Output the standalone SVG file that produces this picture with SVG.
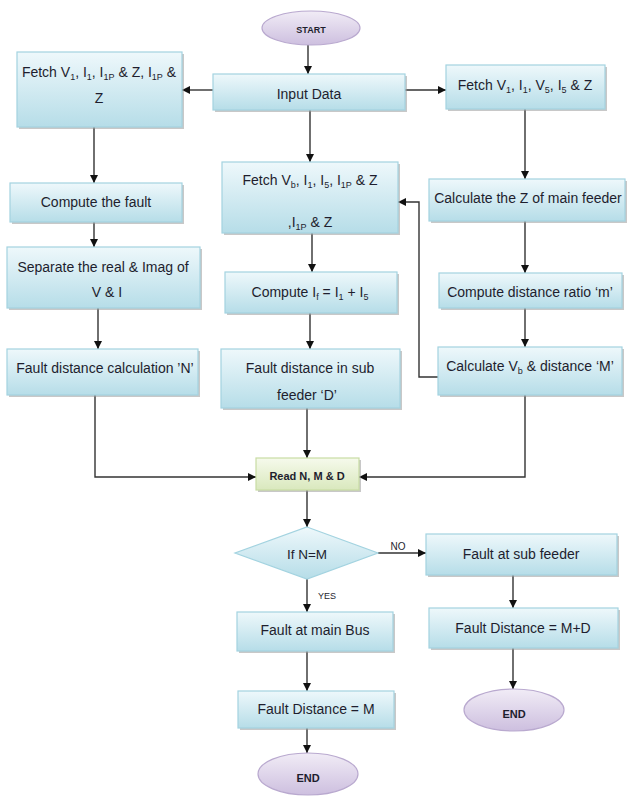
<svg xmlns="http://www.w3.org/2000/svg" width="627" height="796" viewBox="0 0 627 796">
<style>
.box{fill:url(#gBlue);stroke:#a3d3e0;stroke-width:1.2}
.shd{fill:#9a9a9a;opacity:0.55}
.grn{fill:url(#gGreen);stroke:#c8dca4;stroke-width:1.2}
.ell{fill:url(#gPurple);stroke:#b9a9cf;stroke-width:1.2}
.dia{fill:url(#gBlue);stroke:#a3d3e0;stroke-width:1.2}
.t{font-family:"Liberation Sans",Arial,sans-serif;font-size:14px;fill:#1e1e2e;text-anchor:middle}
.b{font-family:"Liberation Sans",Arial,sans-serif;font-weight:bold;fill:#1e1e2e;text-anchor:middle}
.s{font-size:9px}
.c{fill:none;stroke:#333;stroke-width:1.4}
</style>
<defs>
<linearGradient id="gBlue" x1="0" y1="0" x2="0" y2="1"><stop offset="0" stop-color="#eef8fb"/><stop offset="1" stop-color="#b6dde8"/></linearGradient>
<linearGradient id="gGreen" x1="0" y1="0" x2="0" y2="1"><stop offset="0" stop-color="#f6faec"/><stop offset="1" stop-color="#d9e8bd"/></linearGradient>
<linearGradient id="gPurple" x1="0" y1="0" x2="0" y2="1"><stop offset="0" stop-color="#f1ecf6"/><stop offset="1" stop-color="#cdbfdf"/></linearGradient>
<marker id="ar" markerUnits="userSpaceOnUse" markerWidth="9" markerHeight="8" refX="8" refY="4" orient="auto"><path d="M0,0 L8,4 L0,8 z" fill="#111"/></marker>
</defs>

<g id="connectors">
<path class="c" marker-end="url(#ar)" d="M308,45 V74"/>
<path class="c" marker-end="url(#ar)" d="M213,90 H182"/>
<path class="c" marker-end="url(#ar)" d="M405,90 H446"/>
<path class="c" marker-end="url(#ar)" d="M310,110 V162"/>
<path class="c" marker-end="url(#ar)" d="M94,127 V183"/>
<path class="c" marker-end="url(#ar)" d="M94,222 V247"/>
<path class="c" marker-end="url(#ar)" d="M98,308 V349"/>
<path class="c" marker-end="url(#ar)" d="M312,233 V272"/>
<path class="c" marker-end="url(#ar)" d="M310,313 V349"/>
<path class="c" marker-end="url(#ar)" d="M307,408 V458"/>
<path class="c" marker-end="url(#ar)" d="M525,109 V179"/>
<path class="c" marker-end="url(#ar)" d="M525,221 V273"/>
<path class="c" marker-end="url(#ar)" d="M525,308 V347"/>
<path class="c" marker-end="url(#ar)" d="M438,377 H419 V202 H398"/>
<path class="c" marker-end="url(#ar)" d="M95,395 V477 H256"/>
<path class="c" marker-end="url(#ar)" d="M525,395 V477 H359"/>
<path class="c" marker-end="url(#ar)" d="M307,490 V527"/>
<path class="c" marker-end="url(#ar)" d="M378,553 H426"/>
<path class="c" marker-end="url(#ar)" d="M307,579 V612"/>
<path class="c" marker-end="url(#ar)" d="M307,651 V691"/>
<path class="c" marker-end="url(#ar)" d="M307,728 V753"/>
<path class="c" marker-end="url(#ar)" d="M513,575 V608"/>
<path class="c" marker-end="url(#ar)" d="M513,648 V689"/>
<text class="t" x="398" y="550" style="font-size:10px">NO</text>
<text class="t" x="327" y="599" style="font-size:9px">YES</text>
</g>

<g id="start">
<ellipse class="ell" cx="311" cy="28" rx="49" ry="17"/>
<text class="b" x="311" y="33" font-size="9">START</text>
</g>

<g id="input">
<rect class="shd" x="215" y="76" width="192" height="36"/>
<rect class="box" x="213" y="74" width="192" height="36"/>
<text class="t" x="309" y="99">Input Data</text>
</g>

<g id="fetchL">
<rect class="shd" x="19" y="54" width="165" height="75"/>
<rect class="box" x="17" y="52" width="165" height="75"/>
<text class="t" x="99" y="77">Fetch V<tspan class="s" dy="3">1</tspan><tspan dy="-3">, I</tspan><tspan class="s" dy="3">1</tspan><tspan dy="-3">, I</tspan><tspan class="s" dy="3">1P</tspan><tspan dy="-3"> &amp; Z, I</tspan><tspan class="s" dy="3">1P</tspan><tspan dy="-3"> &amp;</tspan></text>
<text class="t" x="99" y="103">Z</text>
</g>

<g id="fetchR">
<rect class="shd" x="448" y="67" width="159" height="44"/>
<rect class="box" x="446" y="65" width="159" height="44"/>
<text class="t" x="525" y="90">Fetch V<tspan class="s" dy="3">1</tspan><tspan dy="-3">, I</tspan><tspan class="s" dy="3">1</tspan><tspan dy="-3">, V</tspan><tspan class="s" dy="3">5</tspan><tspan dy="-3">, I</tspan><tspan class="s" dy="3">5</tspan><tspan dy="-3"> &amp; Z</tspan></text>
</g>

<g id="fetchM">
<rect class="shd" x="224" y="164" width="176" height="71"/>
<rect class="box" x="222" y="162" width="176" height="71"/>
<text class="t" x="310" y="185">Fetch V<tspan class="s" dy="3">b</tspan><tspan dy="-3">, I</tspan><tspan class="s" dy="3">1</tspan><tspan dy="-3">, I</tspan><tspan class="s" dy="3">5</tspan><tspan dy="-3">, I</tspan><tspan class="s" dy="3">1P</tspan><tspan dy="-3">  &amp; Z</tspan></text>
<text class="t" x="310" y="227">,I<tspan class="s" dy="3">1P</tspan><tspan dy="-3"> &amp; Z</tspan></text>
</g>

<g id="computeFault">
<rect class="shd" x="12" y="185" width="172" height="39"/>
<rect class="box" x="10" y="183" width="172" height="39"/>
<text class="t" x="96" y="207">Compute the fault</text>
</g>

<g id="separate">
<rect class="shd" x="9" y="249" width="193" height="61"/>
<rect class="box" x="7" y="247" width="193" height="61"/>
<text class="t" x="103" y="272">Separate the real &amp; Imag of</text>
<text class="t" x="107" y="297">V &amp; I</text>
</g>

<g id="faultCalcN">
<rect class="shd" x="9" y="351" width="191" height="46"/>
<rect class="box" x="7" y="349" width="191" height="46"/>
<text class="t" x="105" y="373">Fault distance calculation ’N’</text>
</g>

<g id="computeIf">
<rect class="shd" x="227" y="274" width="172" height="41"/>
<rect class="box" x="225" y="272" width="172" height="41"/>
<text class="t" x="310" y="297">Compute I<tspan class="s" dy="3">f</tspan><tspan dy="-3"> = I</tspan><tspan class="s" dy="3">1</tspan><tspan dy="-3"> + I</tspan><tspan class="s" dy="3">5</tspan></text>
</g>

<g id="faultSub">
<rect class="shd" x="223" y="351" width="179" height="59"/>
<rect class="box" x="221" y="349" width="179" height="59"/>
<text class="t" x="310" y="373">Fault distance in sub</text>
<text class="t" x="307" y="400">feeder ‘D’</text>
</g>

<g id="calcZ">
<rect class="shd" x="431" y="181" width="196" height="42"/>
<rect class="box" x="429" y="179" width="196" height="42"/>
<text class="t" x="528" y="203">Calculate the Z of main feeder</text>
</g>

<g id="ratio">
<rect class="shd" x="441" y="275" width="183" height="35"/>
<rect class="box" x="439" y="273" width="183" height="35"/>
<text class="t" x="530" y="297">Compute distance ratio ‘m’</text>
</g>

<g id="calcVb">
<rect class="shd" x="440" y="349" width="184" height="48"/>
<rect class="box" x="438" y="347" width="184" height="48"/>
<text class="t" x="530" y="371">Calculate V<tspan class="s" dy="3">b</tspan><tspan dy="-3"> &amp; distance ‘M’</tspan></text>
</g>

<g id="read">
<rect class="shd" x="258" y="460" width="103" height="32"/>
<rect class="grn" x="256" y="458" width="103" height="32"/>
<text class="b" x="307" y="480" font-size="11">Read N, M &amp; D</text>
</g>

<g id="decision">
<polygon class="dia" points="307,527 378,553 307,579 235,553"/>
<text class="t" x="307" y="559" style="font-size:13.5px">If N=M</text>
</g>

<g id="subFeeder">
<rect class="shd" x="428" y="536" width="191" height="41"/>
<rect class="box" x="426" y="534" width="191" height="41"/>
<text class="t" x="521" y="559">Fault at sub feeder</text>
</g>

<g id="mainBus">
<rect class="shd" x="239" y="614" width="156" height="39"/>
<rect class="box" x="237" y="612" width="156" height="39"/>
<text class="t" x="315" y="635">Fault at main Bus</text>
</g>

<g id="fdM">
<rect class="shd" x="240" y="693" width="156" height="37"/>
<rect class="box" x="238" y="691" width="156" height="37"/>
<text class="t" x="316" y="714">Fault Distance = M</text>
</g>

<g id="fdMD">
<rect class="shd" x="431" y="610" width="189" height="40"/>
<rect class="box" x="429" y="608" width="189" height="40"/>
<text class="t" x="523" y="633">Fault Distance = M+D</text>
</g>

<g id="end1">
<ellipse class="ell" cx="308" cy="774" rx="50" ry="21"/>
<text class="b" x="308" y="782" font-size="11">END</text>
</g>

<g id="end2">
<ellipse class="ell" cx="514" cy="710" rx="50" ry="21"/>
<text class="b" x="514" y="718" font-size="11">END</text>
</g>
</svg>
